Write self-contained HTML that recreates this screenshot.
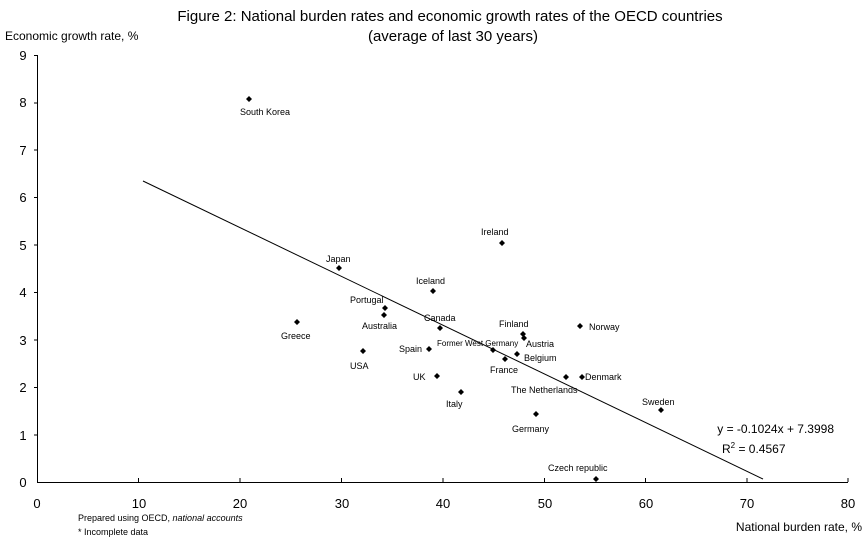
<!DOCTYPE html>
<html><head><meta charset="utf-8"><style>
body{margin:0;background:#fff;}
svg text{font-family:"Liberation Sans","Noto Sans CJK JP",sans-serif;fill:#000;}
</style></head><body>
<svg width="865" height="540" viewBox="0 0 865 540" xmlns="http://www.w3.org/2000/svg">
<rect width="865" height="540" fill="#fff"/>
<text x="450" y="21" font-size="15" text-anchor="middle">Figure 2: National burden rates and economic growth rates of the OECD countries</text>
<text x="453" y="41" font-size="15" text-anchor="middle">(average of last 30 years)</text>
<text x="5" y="40" font-size="12">Economic growth rate, %</text>
<g stroke="#000" stroke-width="1" fill="none">
<line x1="37.5" y1="55" x2="37.5" y2="482"/>
<line x1="37" y1="482.5" x2="848" y2="482.5"/>
<path d="M34 55.5H37M34 103H37M34 150H37M34 197.5H37M34 245H37M34 292.5H37M34 340H37M34 387.5H37M34 435H37"/>
<path d="M138.5 478V482M240 478V482M341.5 478V482M443 478V482M544.5 478V482M645.5 478V482M747 478V482M848 478V482"/>
<line x1="143" y1="181" x2="763" y2="479"/>
</g>
<g font-size="13" text-anchor="middle">
<text x="23" y="487">0</text><text x="23" y="440">1</text><text x="23" y="392">2</text><text x="23" y="345">3</text><text x="23" y="297">4</text><text x="23" y="250">5</text><text x="23" y="202">6</text><text x="23" y="155">7</text><text x="23" y="107">8</text><text x="23" y="60">9</text>
<text x="37" y="508">0</text><text x="139" y="508">10</text><text x="240" y="508">20</text><text x="342" y="508">30</text><text x="443" y="508">40</text><text x="545" y="508">50</text><text x="646" y="508">60</text><text x="747" y="508">70</text><text x="848" y="508">80</text>
</g>
<text x="78" y="521" font-size="9">Prepared using OECD, <tspan font-style="italic">national accounts</tspan></text>
<text x="78" y="535" font-size="9">* Incomplete data</text>
<text x="862" y="531" font-size="12" text-anchor="end">National burden rate, %</text>
<text x="834" y="433" font-size="12" text-anchor="end">y = -0.1024x + 7.3998</text>
<text x="722" y="453" font-size="12">R<tspan font-size="8" dy="-5">2</tspan><tspan dy="5"> = 0.4567</tspan></text>
<g fill="#000">
<path d="M249 96l3 3-3 3-3-3z M502 240l3 3-3 3-3-3z M339 265l3 3-3 3-3-3z M433 288l3 3-3 3-3-3z M385 305l3 3-3 3-3-3z M384 312l3 3-3 3-3-3z M297 319l3 3-3 3-3-3z M440 325l3 3-3 3-3-3z M523 331l3 3-3 3-3-3z M524 335l3 3-3 3-3-3z M580 323l3 3-3 3-3-3z M429 346l3 3-3 3-3-3z M363 348l3 3-3 3-3-3z M493 347l3 3-3 3-3-3z M517 351l3 3-3 3-3-3z M505 356l3 3-3 3-3-3z M437 373l3 3-3 3-3-3z M566 374l3 3-3 3-3-3z M582 374l3 3-3 3-3-3z M461 389l3 3-3 3-3-3z M661 407l3 3-3 3-3-3z M536 411l3 3-3 3-3-3z M596 476l3 3-3 3-3-3z"/>
</g>
<g font-size="9">
<text x="240" y="115">South Korea</text>
<text x="481" y="235">Ireland</text>
<text x="326" y="262">Japan</text>
<text x="416" y="284">Iceland</text>
<text x="350" y="303">Portugal</text>
<text x="362" y="329">Australia</text>
<text x="281" y="339">Greece</text>
<text x="424" y="321">Canada</text>
<text x="499" y="327">Finland</text>
<text x="589" y="330">Norway</text>
<text x="399" y="352">Spain</text>
<text x="350" y="369">USA</text>
<text x="437" y="346" font-size="8">Former West Germany</text>
<text x="526" y="347">Austria</text>
<text x="524" y="361">Belgium</text>
<text x="490" y="373">France</text>
<text x="413" y="380">UK</text>
<text x="511" y="393">The Netherlands</text>
<text x="585" y="380">Denmark</text>
<text x="446" y="407">Italy</text>
<text x="642" y="405">Sweden</text>
<text x="512" y="432">Germany</text>
<text x="548" y="471">Czech republic</text>
</g>
</svg>
</body></html>
